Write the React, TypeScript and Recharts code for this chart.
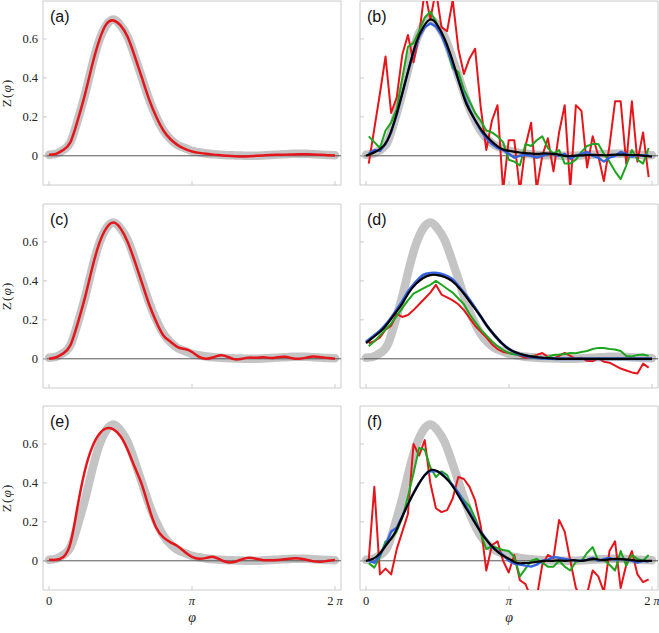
import React from 'react';
import { LineChart, Line, XAxis, YAxis, ReferenceArea } from 'recharts';

const PI = Math.PI;
const X_MIN = -0.132;
const X_MAX = 2 * PI + 0.132;
const Y_MIN = -0.15;
const Y_MAX = 0.795;
const X_TICKS = [0, PI, 2 * PI];
const X_TICK_LABELS = ['0', 'π', '2 π'];
const Y_TICKS = [0, 0.2, 0.4, 0.6];
const Y_TICK_LABELS = ['0', '0.2', '0.4', '0.6'];
const PANEL_TAGS = ['(a)', '(b)', '(c)', '(d)', '(e)', '(f)'];

// phase grids
const PHI_FINE = [0, 0.157, 0.314, 0.471, 0.628, 0.785, 0.942, 1.1, 1.257, 1.414, 1.571, 1.728, 1.885, 2.042, 2.199, 2.356, 2.513, 2.67, 2.827, 2.985, 3.142, 3.299, 3.456, 3.613, 3.77, 3.927, 4.084, 4.241, 4.398, 4.555, 4.712, 4.869, 5.027, 5.184, 5.341, 5.498, 5.655, 5.812, 5.969, 6.126, 6.283];
const PHI_COARSE = [0.06, 0.183, 0.306, 0.429, 0.552, 0.675, 0.798, 0.921, 1.044, 1.167, 1.29, 1.413, 1.536, 1.659, 1.782, 1.905, 2.028, 2.151, 2.274, 2.397, 2.52, 2.643, 2.766, 2.889, 3.012, 3.135, 3.258, 3.381, 3.504, 3.627, 3.75, 3.873, 3.996, 4.119, 4.242, 4.365, 4.488, 4.611, 4.734, 4.857, 4.98, 5.103, 5.226, 5.349, 5.472, 5.595, 5.718, 5.841, 5.964, 6.087, 6.21];

// reference (thick gray) curve
const REFERENCE = [0.005, 0.01, 0.03, 0.07, 0.18, 0.31, 0.46, 0.59, 0.67, 0.7, 0.67, 0.61, 0.51, 0.4, 0.29, 0.2, 0.13, 0.085, 0.055, 0.04, 0.025, 0.018, 0.012, 0.008, 0.005, 0.003, 0.002, 0.001, 0, 0, 0.002, 0.004, 0.006, 0.008, 0.01, 0.01, 0.01, 0.008, 0.006, 0.004, 0.003];

// left column
const RED_A = [0.005, 0.01, 0.03, 0.07, 0.18, 0.31, 0.46, 0.59, 0.675, 0.695, 0.67, 0.61, 0.51, 0.4, 0.29, 0.2, 0.13, 0.085, 0.055, 0.035, 0.022, 0.015, 0.01, 0.006, 0.003, 0, -0.002, -0.003, -0.002, 0, 0.002, 0.004, 0.005, 0.006, 0.007, 0.008, 0.008, 0.007, 0.005, 0.003, 0.002];
const RED_C = [0, 0.008, 0.028, 0.07, 0.18, 0.31, 0.46, 0.59, 0.67, 0.7, 0.67, 0.6, 0.5, 0.39, 0.28, 0.19, 0.12, 0.087, 0.06, 0.05, 0.035, 0.01, 0, 0.008, 0.018, 0.01, -0.003, 0, 0.006, 0.005, 0.008, 0.004, 0.008, 0.01, 0.003, 0, 0.006, 0.012, 0.008, 0.004, 0];
const RED_E = [0.005, 0.005, 0.02, 0.09, 0.28, 0.46, 0.58, 0.65, 0.68, 0.675, 0.64, 0.57, 0.48, 0.39, 0.27, 0.17, 0.12, 0.095, 0.075, 0.045, 0.02, 0.01, 0.015, 0.02, 0.005, -0.008, -0.005, 0.008, 0.015, 0.01, 0.003, 0.003, 0.004, 0.008, 0.012, 0.012, 0.005, -0.003, -0.005, 0, 0.004];

// panel (b)
const RED_B = [-0.04, 0.14, 0.32, 0.51, 0.22, 0.3, 0.52, 0.62, 0.48, 0.62, 0.85, 0.7, 0.85, 0.66, 0.64, 0.8, 0.55, 0.42, 0.5, 0.55, 0.25, 0.03, 0.18, 0.26, -0.18, 0.08, 0.08, -0.18, 0.05, 0.17, -0.17, 0, 0.09, -0.08, 0.12, 0.26, -0.17, 0.26, 0.23, -0.06, 0.1, 0, -0.13, 0.05, 0.28, 0.28, -0.04, 0.28, -0.03, 0.12, -0.11];
const GREEN_B = [0.1, 0.07, 0.04, 0.13, 0.17, 0.24, 0.4, 0.56, 0.58, 0.64, 0.71, 0.74, 0.69, 0.62, 0.55, 0.45, 0.43, 0.34, 0.28, 0.22, 0.18, 0.13, 0.12, 0.1, 0.07, -0.02, -0.03, -0.05, 0.06, 0.05, 0.08, 0.1, 0.04, 0.01, 0.03, -0.04, -0.04, -0.02, 0.02, 0.05, 0.06, 0.06, 0.01, -0.03, -0.08, -0.12, -0.05, 0.03, -0.02, -0.04, 0.04];
const BLUE_B = [0.01, 0.03, 0.025, 0.06, 0.12, 0.21, 0.32, 0.43, 0.53, 0.61, 0.66, 0.68, 0.665, 0.62, 0.55, 0.47, 0.39, 0.31, 0.24, 0.18, 0.13, 0.09, 0.06, 0.04, 0.03, 0.01, -0.01, 0, 0.005, 0, -0.01, 0, 0.01, 0.01, 0, 0.01, -0.015, 0, 0.01, 0.02, 0, -0.01, -0.03, -0.01, 0, 0.02, 0.01, -0.005, 0.005, 0, 0.005];
const BLACK_B = [0, 0.015, 0.035, 0.08, 0.18, 0.31, 0.45, 0.58, 0.66, 0.7, 0.67, 0.6, 0.5, 0.38, 0.27, 0.2, 0.14, 0.095, 0.06, 0.035, 0.025, 0.02, 0.015, 0.012, 0.01, 0.012, 0.01, 0.006, -0.002, 0, 0.002, 0.004, 0.005, 0.003, 0.004, 0.006, 0.006, 0.004, 0.004, 0, -0.004];

// panel (d)
const RED_D = [0.08, 0.09, 0.11, 0.15, 0.17, 0.23, 0.215, 0.225, 0.25, 0.28, 0.31, 0.34, 0.38, 0.33, 0.315, 0.3, 0.28, 0.25, 0.21, 0.17, 0.14, 0.11, 0.075, 0.05, 0.035, 0.03, 0.025, 0.015, 0.005, 0.012, 0.02, 0.03, 0.01, 0, 0.015, 0.03, 0.015, 0, 0.005, -0.01, -0.012, 0.002, -0.015, -0.02, -0.035, -0.05, -0.06, -0.07, -0.075, -0.025, -0.045];
const GREEN_D = [0.065, 0.09, 0.12, 0.15, 0.18, 0.22, 0.26, 0.3, 0.335, 0.35, 0.365, 0.38, 0.4, 0.38, 0.36, 0.34, 0.31, 0.28, 0.23, 0.19, 0.15, 0.12, 0.09, 0.065, 0.045, 0.03, 0.022, 0.02, 0.016, 0.014, 0.01, 0, 0.01, 0.02, 0.022, 0.025, 0.03, 0.028, 0.035, 0.04, 0.05, 0.056, 0.055, 0.05, 0.048, 0.04, 0.014, 0.012, 0.02, 0.022, 0.015];
const BLUE_D = [0.085, 0.115, 0.145, 0.185, 0.235, 0.29, 0.35, 0.395, 0.43, 0.44, 0.44, 0.43, 0.41, 0.37, 0.325, 0.275, 0.22, 0.165, 0.12, 0.08, 0.05, 0.03, 0.018, 0.01, 0.005, 0.003, 0.001, 0, 0, 0, 0, 0, 0, 0, 0, 0, 0, 0, 0, 0, 0];
const BLACK_D = [0.08, 0.11, 0.14, 0.18, 0.23, 0.28, 0.34, 0.385, 0.415, 0.43, 0.43, 0.42, 0.4, 0.365, 0.32, 0.27, 0.22, 0.165, 0.12, 0.08, 0.05, 0.032, 0.02, 0.012, 0.007, 0.004, 0.002, 0, 0, 0, 0, 0, 0, 0, 0, 0, 0, 0, 0, 0, 0];

// panel (f)
const RED_F = [0.005, 0.38, -0.07, -0.04, -0.07, 0.06, 0.15, 0.24, 0.6, 0.54, 0.62, 0.4, 0.27, 0.25, 0.26, 0.32, 0.43, 0.42, 0.38, 0.31, 0.18, -0.05, 0.08, 0.1, 0, -0.06, 0.03, -0.1, -0.12, -0.19, -0.19, -0.02, 0.03, 0.014, 0.21, 0.15, 0, -0.14, -0.19, -0.17, -0.05, -0.08, -0.16, 0.05, 0.1, -0.14, -0.02, 0.05, -0.07, -0.11, -0.095];
const GREEN_F = [-0.012, -0.035, 0.02, 0.1, 0.11, 0.15, 0.22, 0.33, 0.45, 0.58, 0.57, 0.48, 0.43, 0.46, 0.44, 0.38, 0.35, 0.31, 0.28, 0.22, 0.14, 0.06, 0.075, 0.065, 0.055, 0.05, 0.02, -0.08, -0.04, 0, 0.01, -0.01, -0.03, -0.03, 0, -0.03, -0.05, -0.005, 0, 0.04, 0.07, 0, 0.005, -0.02, -0.05, 0.05, -0.025, 0.03, 0.01, 0, 0.03];
const BLUE_F = [0, -0.01, 0.03, 0.08, 0.15, 0.17, 0.23, 0.29, 0.35, 0.4, 0.44, 0.46, 0.46, 0.45, 0.42, 0.39, 0.35, 0.3, 0.25, 0.2, 0.15, 0.11, 0.07, 0.05, 0.03, 0, -0.015, -0.02, -0.025, -0.03, -0.02, 0, 0.005, 0.02, 0.015, 0.01, 0.005, 0, 0, 0.005, 0.015, 0, 0.01, 0.015, 0.005, 0.01, 0.005, 0, -0.01, 0, -0.005];
const BLACK_F = [0, 0.01, 0.04, 0.09, 0.14, 0.22, 0.3, 0.37, 0.43, 0.465, 0.46, 0.43, 0.39, 0.33, 0.27, 0.21, 0.15, 0.1, 0.06, 0.03, 0.01, -0.01, -0.012, -0.01, -0.005, 0, 0, 0.002, 0, 0.003, 0, 0.005, 0.01, 0.003, 0.008, 0.01, 0.008, 0.005, 0, 0, 0];

const GRAY = '#c4c4c4';
const RED = '#e4161b';
const GREEN = '#1ea51e';
const BLUE = '#3563e0';
const BLACK = '#000000';
const FRAME = '#cacaca';
const SERIF = "'Liberation Serif', 'Times New Roman', serif";
const SANS = "'Liberation Sans', Arial, sans-serif";

type Series = { phi: number[]; z: number[]; color: string; width: number; smooth: boolean };

const pts = (phi: number[], z: number[]) => phi.map((x, i) => ({ x, y: z[i] }));

const PANELS: { col: number; row: number; series: Series[] }[] = [
  { col: 0, row: 0, series: [{ phi: PHI_FINE, z: RED_A, color: RED, width: 2.5, smooth: true }] },
  {
    col: 1, row: 0, series: [
      { phi: PHI_COARSE, z: RED_B, color: RED, width: 2, smooth: false },
      { phi: PHI_COARSE, z: GREEN_B, color: GREEN, width: 2, smooth: false },
      { phi: PHI_COARSE, z: BLUE_B, color: BLUE, width: 2.4, smooth: false },
      { phi: PHI_FINE, z: BLACK_B, color: BLACK, width: 2.2, smooth: true },
    ],
  },
  { col: 0, row: 1, series: [{ phi: PHI_FINE, z: RED_C, color: RED, width: 2.5, smooth: true }] },
  {
    col: 1, row: 1, series: [
      { phi: PHI_COARSE, z: RED_D, color: RED, width: 2, smooth: false },
      { phi: PHI_COARSE, z: GREEN_D, color: GREEN, width: 2, smooth: false },
      { phi: PHI_FINE, z: BLUE_D, color: BLUE, width: 3, smooth: true },
      { phi: PHI_FINE, z: BLACK_D, color: BLACK, width: 2.2, smooth: true },
    ],
  },
  { col: 0, row: 2, series: [{ phi: PHI_FINE, z: RED_E, color: RED, width: 2.5, smooth: true }] },
  {
    col: 1, row: 2, series: [
      { phi: PHI_COARSE, z: RED_F, color: RED, width: 2, smooth: false },
      { phi: PHI_COARSE, z: GREEN_F, color: GREEN, width: 2, smooth: false },
      { phi: PHI_COARSE, z: BLUE_F, color: BLUE, width: 2.4, smooth: false },
      { phi: PHI_FINE, z: BLACK_F, color: BLACK, width: 2.2, smooth: true },
    ],
  },
];

const ROW_TOPS = [1, 204, 406];
const PLOT_W = 298;
const PLOT_H = 184;

const XTick = (p: any) => {
  const { x, y, payload, showLabel } = p;
  const i = X_TICKS.indexOf(payload.value);
  const lab = X_TICK_LABELS[i] || '';
  return (
    <g>
      <line x1={x} y1={y} x2={x} y2={y - 4} stroke={FRAME} strokeWidth={1} />
      {showLabel && (
        <text x={x} y={y + 15} textAnchor="middle" fontFamily={SERIF} fontSize={12.5} fill="#222">
          {lab.includes('π') ? (
            <>
              {lab.replace('π', '')}
              <tspan fontStyle="italic">π</tspan>
            </>
          ) : (
            lab
          )}
        </text>
      )}
    </g>
  );
};

const YTick = (p: any) => {
  const { x, y, payload, showLabel } = p;
  const i = Y_TICKS.indexOf(payload.value);
  return (
    <g>
      <line x1={x} y1={y} x2={x + 4} y2={y} stroke={FRAME} strokeWidth={1} />
      {showLabel && (
        <text x={x - 5} y={y + 4.3} textAnchor="end" fontFamily={SERIF} fontSize={12.5} fill="#222">
          {Y_TICK_LABELS[i]}
        </text>
      )}
    </g>
  );
};

function Panel({ col, row, series, tag }: { col: number; row: number; series: Series[]; tag: string }) {
  const plotTop = ROW_TOPS[row];
  const isLeft = col === 0;
  const isBottom = row === 2;
  const yw = isLeft ? 43 : 15;
  const svgLeft = isLeft ? 0 : 345;
  const right = isLeft ? 4 : 1;
  const xh = isBottom ? 42 : 3;
  const width = yw + PLOT_W + right;
  const height = 1 + PLOT_H + xh;
  return (
    <div style={{ position: 'absolute', left: svgLeft, top: plotTop - 1 }}>
      <LineChart width={width} height={height} margin={{ top: 1, right, bottom: 0, left: 0 }}>
        <XAxis
          type="number"
          dataKey="x"
          domain={[X_MIN, X_MAX]}
          ticks={X_TICKS}
          interval={0}
          allowDataOverflow
          axisLine={false}
          tickLine={false}
          tickSize={0}
          tickMargin={0}
          height={xh}
          tick={(p: any) => <XTick {...p} showLabel={isBottom} />}
          label={
            isBottom
              ? (p: any) => {
                  const vb = p.viewBox || {};
                  return (
                    <text x={vb.x + vb.width / 2} y={vb.y + 32} textAnchor="middle" fontFamily={SERIF} fontStyle="italic" fontSize={14} fill="#222">
                      φ
                    </text>
                  );
                }
              : undefined
          }
        />
        <YAxis
          type="number"
          domain={[Y_MIN, Y_MAX]}
          ticks={Y_TICKS}
          interval={0}
          allowDataOverflow
          axisLine={false}
          tickLine={false}
          tickSize={0}
          tickMargin={0}
          width={yw}
          tick={(p: any) => <YTick {...p} showLabel={isLeft} />}
          label={
            isLeft
              ? (p: any) => {
                  const vb = p.viewBox || {};
                  const cx = 10.5;
                  const cy = vb.y + vb.height / 2;
                  return (
                    <text x={cx} y={cy} transform={`rotate(-90 ${cx} ${cy})`} textAnchor="middle" fontFamily={SERIF} fontSize={13.5} fill="#222" letterSpacing={1}>
                      Z(<tspan fontStyle="italic">φ</tspan>)
                    </text>
                  );
                }
              : undefined
          }
        />
        <ReferenceArea
          x1={X_MIN}
          x2={X_MAX}
          y1={Y_MIN}
          y2={Y_MAX}
          fill="none"
          fillOpacity={0}
          stroke={FRAME}
          strokeWidth={1}
          label={(p: any) => {
            const vb = p.viewBox || {};
            return (
              <text x={vb.x + 7} y={vb.y + 21} fontFamily={SANS} fontSize={16} fill="#111">
                {tag}
              </text>
            );
          }}
        />
        <Line
          data={pts(PHI_FINE, REFERENCE)}
          dataKey="y"
          type="natural"
          stroke={GRAY}
          strokeWidth={8.5}
          strokeLinecap="round"
          strokeLinejoin="round"
          dot={false}
          activeDot={false}
          isAnimationActive={false}
        />
        <Line
          data={pts([X_MIN, X_MAX], [0, 0])}
          dataKey="y"
          type="linear"
          stroke="#555"
          strokeWidth={1}
          dot={false}
          activeDot={false}
          isAnimationActive={false}
        />
        {series.map((s, i) => (
          <Line
            key={i}
            data={pts(s.phi, s.z)}
            dataKey="y"
            type={s.smooth ? 'natural' : 'linear'}
            stroke={s.color}
            strokeWidth={s.width}
            strokeLinejoin="round"
            dot={false}
            activeDot={false}
            isAnimationActive={false}
          />
        ))}
      </LineChart>
    </div>
  );
}

export default function App() {
  return (
    <div style={{ position: 'absolute', left: 0, top: 0, width: 659, height: 633, background: '#fff', overflow: 'hidden' }}>
      {PANELS.map((p, i) => (
        <Panel key={i} col={p.col} row={p.row} series={p.series} tag={PANEL_TAGS[i]} />
      ))}
    </div>
  );
}
